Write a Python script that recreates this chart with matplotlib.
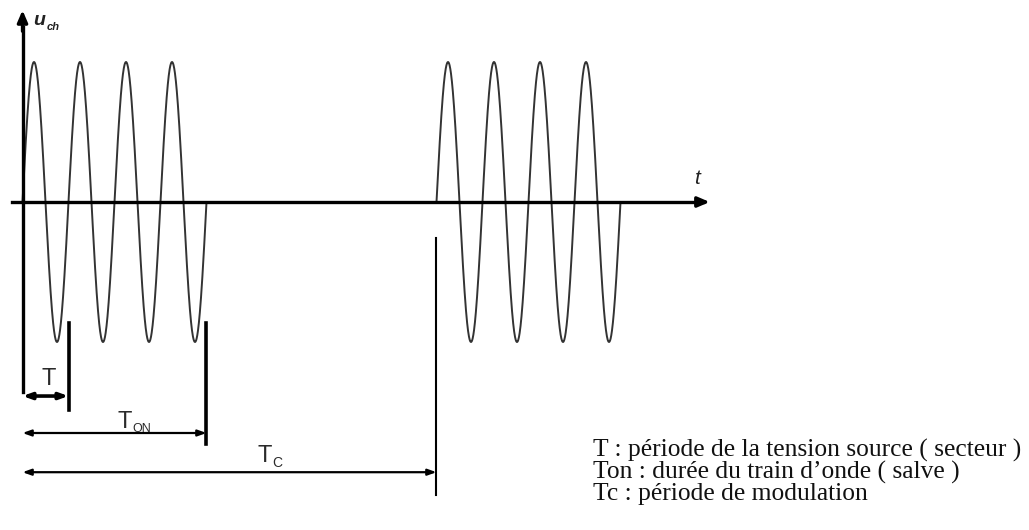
import numpy as np
import matplotlib.pyplot as plt

# time in units of the mains period T, voltage in units of the amplitude
PERIOD = 1.0
N_CYCLES = 4
T_ON = 4.0
T_C = 9.0
BURST_STARTS = [0.0, T_C]
AMPLITUDE = 1.0

LEGEND_LINES = [
    "T : période de la tension source ( secteur )",
    "Ton : durée du train d\u2019onde ( salve )",
    "Tc : période de modulation",
]

# pixel mapping of the reference drawing
PX_PER_T = 46.0
PX_PER_U = 140.0
X0_PX, Y0_PX = 22.5, 202.0
W_PX, H_PX = 1029, 530


def main() -> None:
    fig = plt.figure(figsize=(W_PX / 100, H_PX / 100), dpi=100)
    ax = fig.add_axes([0, 0, 1, 1])
    ax.set_xlim(-X0_PX / PX_PER_T, (W_PX - X0_PX) / PX_PER_T)
    ax.set_ylim(-(H_PX - Y0_PX) / PX_PER_U, Y0_PX / PX_PER_U)
    ax.axis("off")

    # bursts of sine
    for t0 in BURST_STARTS:
        t = np.linspace(0, N_CYCLES * PERIOD, 800)
        ax.plot(t0 + t, AMPLITUDE * np.sin(2 * np.pi * t / PERIOD),
                color="#333333", lw=1.4, zorder=2)

    # axes with arrows
    ax.plot([-0.23, 14.8], [0, 0], color="black", lw=2.4, zorder=3)
    ax.annotate("", xy=(15.0, 0), xytext=(14.6, 0),
                arrowprops=dict(arrowstyle="-|>,head_length=0.7,head_width=0.3",
                                color="black", lw=2.4), zorder=3)
    ax.plot([0, 0], [-1.357, 1.25], color="black", lw=2.4, zorder=3)
    ax.annotate("", xy=(0, 1.39), xytext=(0, 1.2),
                arrowprops=dict(arrowstyle="-|>,head_length=0.7,head_width=0.3",
                                color="black", lw=2.4), zorder=3)

    ax.text(0.24, 1.264, "u", fontsize=14, style="italic", fontweight="bold",
            family="Liberation Sans", va="baseline", color="#222222")
    ax.text(0.52, 1.229, "ch", fontsize=8, style="italic", fontweight="bold",
            family="Liberation Sans", va="baseline", color="#222222")
    ax.text(14.6, 0.125, "t", fontsize=15, style="italic",
            family="Liberation Sans", va="baseline", color="#222222")

    # marker bars
    ax.plot([PERIOD, PERIOD], [-0.864, -1.486], color="black", lw=2.6)
    ax.plot([T_ON, T_ON], [-0.864, -1.73], color="black", lw=2.6)
    ax.plot([T_C, T_C], [-0.257, -2.09], color="black", lw=1.5)

    # dimension arrows
    dims = [(PERIOD, -1.386, 2.6), (T_ON, -1.65, 1.6), (T_C, -1.93, 1.6)]
    for end, u, lw in dims:
        ax.annotate("", xy=(end, u), xytext=(0, u),
                    arrowprops=dict(arrowstyle="<|-|>,head_length=0.5,head_width=0.18",
                                    color="black", lw=lw, shrinkA=0, shrinkB=0))

    lbl = dict(family="Liberation Sans", va="baseline", color="#2a2a2a")
    ax.text(0.56, -1.307, "T", fontsize=17, ha="center", **lbl)
    ax.text(2.23, -1.614, "T", fontsize=17, ha="center", **lbl)
    ax.text(2.39, -1.643, "ON", fontsize=9, ha="left", **lbl)
    ax.text(5.27, -1.857, "T", fontsize=17, ha="center", **lbl)
    ax.text(5.43, -1.893, "C", fontsize=10, ha="left", **lbl)

    # legend text
    for i, line in enumerate(LEGEND_LINES):
        ax.text(12.40, -1.821 - i * 0.155, line, fontsize=18.4,
                family="Liberation Serif", ha="left", va="baseline",
                color="#111111")

    fig.savefig("out.png", dpi=100)
    plt.close(fig)


if __name__ == "__main__":
    main()
